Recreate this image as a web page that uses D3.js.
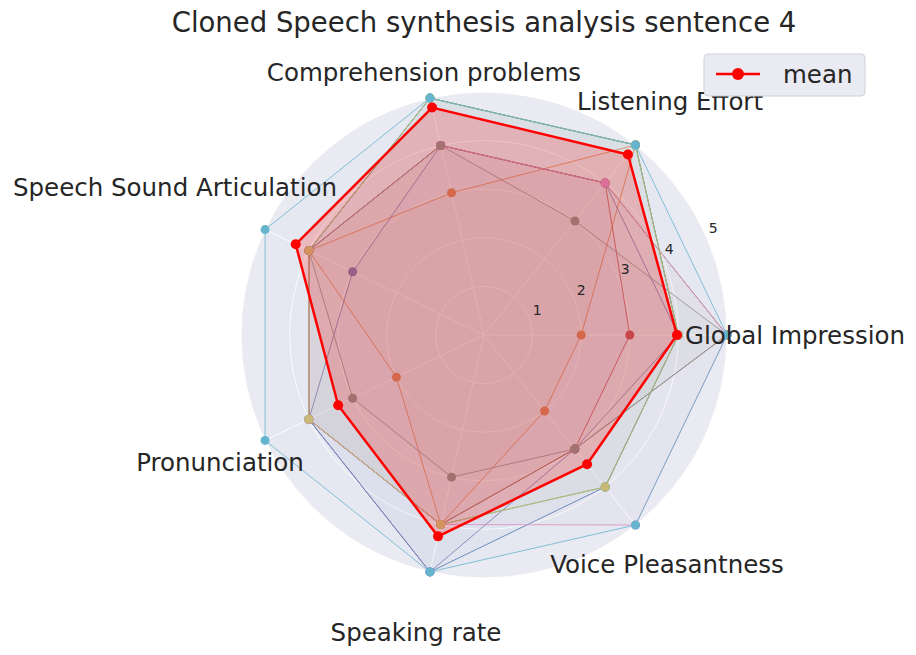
<!DOCTYPE html>
<html><head><meta charset="utf-8">
<script src="https://cdn.jsdelivr.net/npm/d3@7"></script>
<style>body{margin:0;background:#fff;font-family:"DejaVu Sans",sans-serif}</style>
</head><body><svg id="c" width="916" height="655"></svg>
<script>
var categories = ['Global Impression','Listening Effort','Comprehension problems','Speech Sound Articulation','Pronunciation','Speaking rate','Voice Pleasantness'];
var seriesNames = ['s0','s1','s2','s3','s4','s5','s6','s7','s8','s9'];
var seriesValues = [
	[4,5,5,4,4,5,4],
	[2,5,3,4,2,4,2],
	[4,5,5,4,4,4,4],
	[3,4,4,4,4,4,3],
	[4,4,4,3,4,5,3],
	[5,4,4,4,4,4,3],
	[5,4,4,4,4,4,5],
	[5,3,4,4,3,3,3],
	[4,5,5,4,4,4,4],
	[5,5,5,5,5,5,5]
];
var meanValues = [3.97,4.75,4.8,4.3,3.33,4.25,3.4];
var rTicks = [1,2,3,4,5];
var colors = ['#4c72b0','#dd8452','#55a868','#c44e52','#8172b3','#937860','#da8bc3','#8c8c8c','#ccb974','#64b5cd'];
var labelPos = [[795,335],[670,101],[424,72],[175,187],[220,462],[416,632],[667,564]];

var svg = d3.select('#c');
var cx = 484, cy = 335, R = 243;
var r = d3.scaleLinear().domain([0,5]).range([0,R]);
var ang = d3.scaleLinear().domain([0,categories.length]).range([0,2*Math.PI]);
function pt(v,i){ var a = ang(i); return [cx + r(v)*Math.cos(a), cy - r(v)*Math.sin(a)]; }

svg.append('circle').attr('cx',cx).attr('cy',cy).attr('r',R).attr('fill','#eaeaf2');
rTicks.forEach(function(t){
	svg.append('circle').attr('cx',cx).attr('cy',cy).attr('r',r(t)).attr('fill','none').attr('stroke','#fff').attr('stroke-width',1);
});
categories.forEach(function(c,i){
	var p = pt(5,i);
	svg.append('line').attr('x1',cx).attr('y1',cy).attr('x2',p[0]).attr('y2',p[1]).attr('stroke','#fff');
});

var line = d3.line().curve(d3.curveLinearClosed);
function drawSeries(vals, col, lw, dotR, fillOp){
	var pts = vals.map(pt);
	svg.append('path').attr('d',line(pts)).attr('fill',col).attr('fill-opacity',fillOp).attr('stroke','none');
	svg.append('path').attr('d',line(pts)).attr('fill','none').attr('stroke',col).attr('stroke-width',lw);
	svg.selectAll(null).data(pts).enter().append('circle')
		.attr('cx',function(d){return d[0]}).attr('cy',function(d){return d[1]})
		.attr('r',dotR).attr('fill',col);
}
seriesValues.forEach(function(v,i){ drawSeries(v, colors[i], 0.8, 4.5, 0.03); });
drawSeries(meanValues, 'red', 2.5, 5, 0.2);

var tickAng = 25*Math.PI/180;
rTicks.forEach(function(t){
	var rr = r(t)+10;
	svg.append('text').attr('x',cx+rr*Math.cos(tickAng)).attr('y',cy-rr*Math.sin(tickAng)+5)
		.attr('text-anchor','middle').attr('font-size',14).attr('fill','#262626').text(t);
});
categories.forEach(function(c,i){
	svg.append('text').attr('x',labelPos[i][0]).attr('y',labelPos[i][1]+9)
		.attr('text-anchor','middle').attr('font-size',24.5).attr('fill','#262626').text(c);
});
svg.append('text').attr('x',484).attr('y',32).attr('text-anchor','middle').attr('font-size',27.5)
	.attr('fill','#262626').text('Cloned Speech synthesis analysis sentence 4');

var lg = svg.append('g');
lg.append('rect').attr('x',704).attr('y',54).attr('width',161).attr('height',42).attr('rx',4)
	.attr('fill','#eaeaf2').attr('stroke','#d0d0d8');
lg.append('line').attr('x1',716).attr('x2',760).attr('y1',74).attr('y2',74).attr('stroke','red').attr('stroke-width',2.5);
lg.append('circle').attr('cx',738).attr('cy',74).attr('r',6).attr('fill','red');
lg.append('text').attr('x',783).attr('y',83).attr('font-size',24.5).attr('fill','#262626').text('mean');
</script></body></html>
